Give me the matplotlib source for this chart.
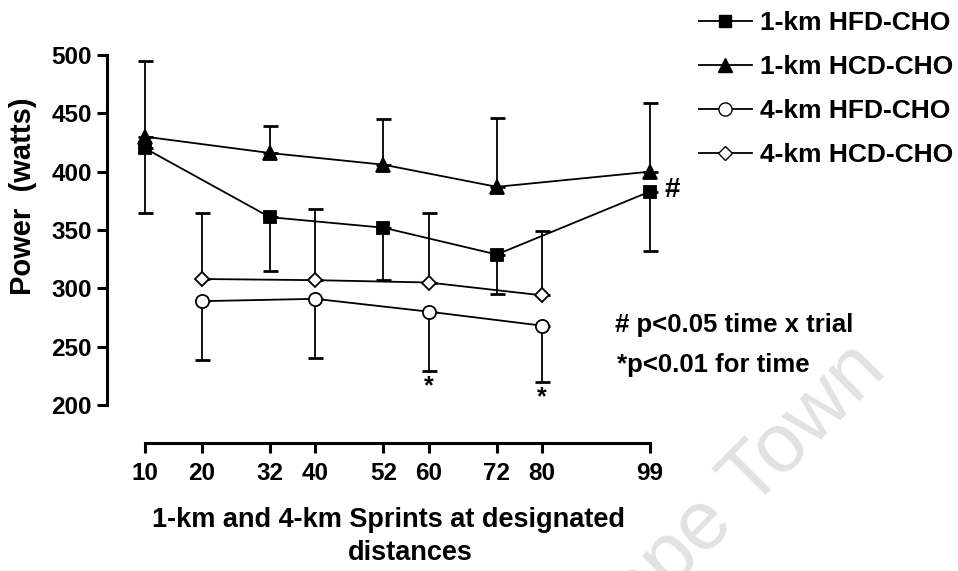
import matplotlib.pyplot as plt
from matplotlib.lines import Line2D

plt.rcParams['font.family'] = ['Liberation Sans', 'DejaVu Sans']
plt.rcParams['font.weight'] = 'bold'

# sprint distances (km into the time trial)
dist_1km = [10, 32, 52, 72, 99]
dist_4km = [20, 40, 60, 80]
xticks = [10, 20, 32, 40, 52, 60, 72, 80, 99]

# mean power (watts) and SD
hfd_1km = [420, 361, 352, 329, 383]
hfd_1km_sd = [55, 46, 45, 34, 51]
hcd_1km = [430, 416, 406, 387, 400]
hcd_1km_sd = [65, 23, 39, 59, 59]
hfd_4km = [289, 291, 280, 268]
hfd_4km_sd = [50, 51, 51, 48]
hcd_4km = [308, 307, 305, 294]
hcd_4km_sd = [57, 61, 60, 55]

labels = ['1-km HFD-CHO', '1-km HCD-CHO', '4-km HFD-CHO', '4-km HCD-CHO']

W, H = 958, 571
fig = plt.figure(figsize=(W / 100, H / 100), dpi=100)

# watermark
fig.text(889 / W, 1 - 372 / H, 'University of Cape Town', fontsize=60,
         fontweight='normal', color='#e2e2e2', rotation=45,
         rotation_mode='anchor', ha='right', va='baseline', zorder=0)

ax = fig.add_axes([107 / W, 1 - 443 / H, 573 / W, 388 / H])
ax.patch.set_alpha(0)
ax.set_xlim(10 - 38 / 5.674, 99 + 30 / 5.674)
ax.set_ylim(200 - 38 / (350 / 300), 500)

def series(x, y, sd, marker, ms, face, up):
    zeros = [0] * len(sd)
    err = [zeros, sd] if up else [sd, zeros]
    ax.errorbar(x, y, yerr=err, fmt='none', ecolor='black', elinewidth=1.3,
                capsize=5.4, capthick=2, clip_on=False, zorder=2)
    ax.plot(x, y, color='black', lw=1.3, marker=marker, ms=ms,
            mfc=face, mec='black', mew=1.3, clip_on=False, zorder=3)

series(dist_1km, hfd_1km, hfd_1km_sd, 's', 9, 'black', False)
series(dist_1km, hcd_1km, hcd_1km_sd, '^', 10, 'black', True)
series(dist_4km, hfd_4km, hfd_4km_sd, 'o', 9.5, 'white', False)
series(dist_4km, hcd_4km, hcd_4km_sd, 'D', 7, 'white', True)

for s in ['top', 'right']:
    ax.spines[s].set_visible(False)
ax.spines['left'].set_bounds(200, 500)
ax.spines['bottom'].set_bounds(10, 99)
for s in ['left', 'bottom']:
    ax.spines[s].set_linewidth(2.2)

ax.set_yticks(range(200, 501, 50))
ax.set_xticks(xticks)
ax.tick_params(width=2.2, length=7, labelsize=17.5)
ax.tick_params(axis='x', pad=7)
ax.tick_params(axis='y', pad=4)

fig.text(23 / W, 1 - 196 / H, 'Power  (watts)', fontsize=21, rotation=90,
         ha='center', va='center')
fig.text(388 / W, 1 - 520 / H, '1-km and 4-km Sprints at designated',
         fontsize=19.5, ha='center', va='center')
fig.text(410 / W, 1 - 553 / H, 'distances', fontsize=19.5, ha='center', va='center')

# significance marks
ax.text(101.5, 384, '#', fontsize=20, va='center', ha='left')
ax.text(60, 226, '*', fontsize=18, va='top', ha='center')
ax.text(80, 217, '*', fontsize=18, va='top', ha='center')
fig.text(615 / W, 1 - 325 / H, '# p<0.05 time x trial', fontsize=18.5, va='center')
fig.text(617 / W, 1 - 365 / H, '*p<0.01 for time', fontsize=18.5, va='center')

handles = [
    Line2D([], [], color='black', lw=1.3, marker='s', ms=9, mfc='black', mec='black'),
    Line2D([], [], color='black', lw=1.3, marker='^', ms=10, mfc='black', mec='black'),
    Line2D([], [], color='black', lw=1.3, marker='o', ms=9.5, mfc='white', mec='black'),
    Line2D([], [], color='black', lw=1.3, marker='D', ms=7, mfc='white', mec='black'),
]
fig.legend(handles, labels, loc='upper left', bbox_to_anchor=(699 / W, 1 - 11 / H),
           frameon=False, handlelength=2.0, handletextpad=0.3,
           labelspacing=0.76, borderpad=0, borderaxespad=0,
           prop={'weight': 'bold', 'size': 19})

fig.savefig('out.png', dpi=100)
